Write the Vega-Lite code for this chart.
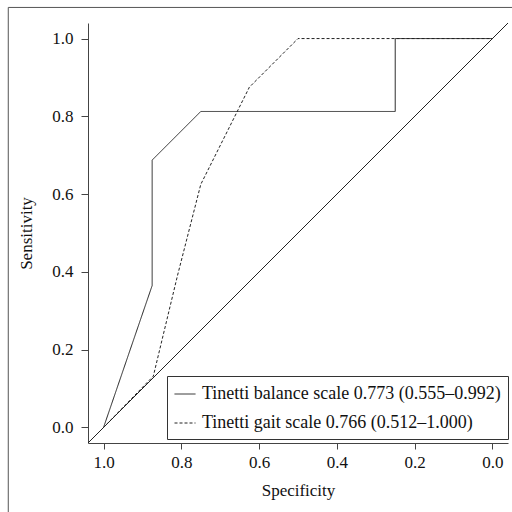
{
  "$schema": "https://vega.github.io/schema/vega-lite/v6.json",
  "autosize": "none",
  "width": 420,
  "height": 420,
  "padding": {"left": 88, "top": 23, "right": 4, "bottom": 69},
  "background": "white",
  "config": {
    "view": {"stroke": null},
    "font": "Liberation Serif",
    "axis": {
      "labelFont": "Liberation Serif",
      "titleFont": "Liberation Serif",
      "labelFontSize": 17,
      "titleFontSize": 17,
      "titleFontWeight": "normal",
      "labelColor": "#111",
      "titleColor": "#111",
      "domainColor": "#444",
      "tickColor": "#444",
      "grid": false,
      "tickSize": 6
    },
    "legend": {
      "labelFont": "Liberation Serif",
      "labelFontSize": 18,
      "labelColor": "#111",
      "labelLimit": 500
    }
  },
  "layer": [
    {
      "data": {"values": [{"spec": 1.04, "sens": -0.04}, {"spec": -0.04, "sens": 1.04}]},
      "mark": {"type": "line", "color": "#222", "strokeWidth": 1, "clip": true},
      "encoding": {
        "x": {"field": "spec", "type": "quantitative"},
        "y": {"field": "sens", "type": "quantitative"}
      }
    },
    {
      "data": {"values": [
        {"series": "Tinetti balance scale 0.773 (0.555\u20130.992)", "ord": 1, "spec": 1.0, "sens": 0.0},
        {"series": "Tinetti balance scale 0.773 (0.555\u20130.992)", "ord": 2, "spec": 0.875, "sens": 0.365},
        {"series": "Tinetti balance scale 0.773 (0.555\u20130.992)", "ord": 3, "spec": 0.875, "sens": 0.6875},
        {"series": "Tinetti balance scale 0.773 (0.555\u20130.992)", "ord": 4, "spec": 0.75, "sens": 0.8125},
        {"series": "Tinetti balance scale 0.773 (0.555\u20130.992)", "ord": 5, "spec": 0.25, "sens": 0.8125},
        {"series": "Tinetti balance scale 0.773 (0.555\u20130.992)", "ord": 6, "spec": 0.25, "sens": 1.0},
        {"series": "Tinetti balance scale 0.773 (0.555\u20130.992)", "ord": 7, "spec": 0.0, "sens": 1.0},
        {"series": "Tinetti gait scale 0.766 (0.512\u20131.000)", "ord": 1, "spec": 1.0, "sens": 0.0},
        {"series": "Tinetti gait scale 0.766 (0.512\u20131.000)", "ord": 2, "spec": 0.872, "sens": 0.132},
        {"series": "Tinetti gait scale 0.766 (0.512\u20131.000)", "ord": 3, "spec": 0.81, "sens": 0.39},
        {"series": "Tinetti gait scale 0.766 (0.512\u20131.000)", "ord": 4, "spec": 0.75, "sens": 0.625},
        {"series": "Tinetti gait scale 0.766 (0.512\u20131.000)", "ord": 5, "spec": 0.625, "sens": 0.875},
        {"series": "Tinetti gait scale 0.766 (0.512\u20131.000)", "ord": 6, "spec": 0.5, "sens": 1.0},
        {"series": "Tinetti gait scale 0.766 (0.512\u20131.000)", "ord": 7, "spec": 0.0, "sens": 1.0}
      ]},
      "mark": {"type": "line", "color": "#222", "strokeWidth": 1},
      "encoding": {
        "x": {
          "field": "spec", "type": "quantitative", "title": "Specificity",
          "scale": {"domain": [1.04, -0.04], "nice": false, "zero": false},
          "axis": {"values": [1, 0.8, 0.6, 0.4, 0.2, 0], "format": ".1f", "labelPadding": 5, "titlePadding": 12}
        },
        "y": {
          "field": "sens", "type": "quantitative", "title": "Sensitivity",
          "scale": {"domain": [-0.04, 1.04], "nice": false, "zero": false},
          "axis": {"values": [0, 0.2, 0.4, 0.6, 0.8, 1], "format": ".1f", "tickSize": 7, "labelPadding": 8, "titlePadding": 16}
        },
        "order": {"field": "ord", "type": "quantitative"},
        "strokeDash": {
          "field": "series", "type": "nominal",
          "scale": {
            "domain": ["Tinetti balance scale 0.773 (0.555\u20130.992)", "Tinetti gait scale 0.766 (0.512\u20131.000)"],
            "range": [[1, 0], [3, 2]]
          },
          "legend": {
            "title": null,
            "orient": "none",
            "legendX": 79,
            "legendY": 353,
            "strokeColor": "#333",
            "fillColor": "white",
            "padding": 7,
            "symbolType": "stroke",
            "symbolSize": 441,
            "symbolStrokeColor": "#222",
            "symbolStrokeWidth": 1,
            "labelOffset": 6,
            "rowPadding": 9
          }
        }
      }
    },
    {
      "data": {"values": [{}]},
      "mark": {"type": "rect", "fill": "transparent", "stroke": "#555", "strokeWidth": 1, "clip": false},
      "encoding": {
        "x": {"datum": 1.245, "type": "quantitative"},
        "x2": {"datum": -0.2},
        "y": {"datum": 1.08, "type": "quantitative"},
        "y2": {"datum": -0.4}
      }
    }
  ]
}
